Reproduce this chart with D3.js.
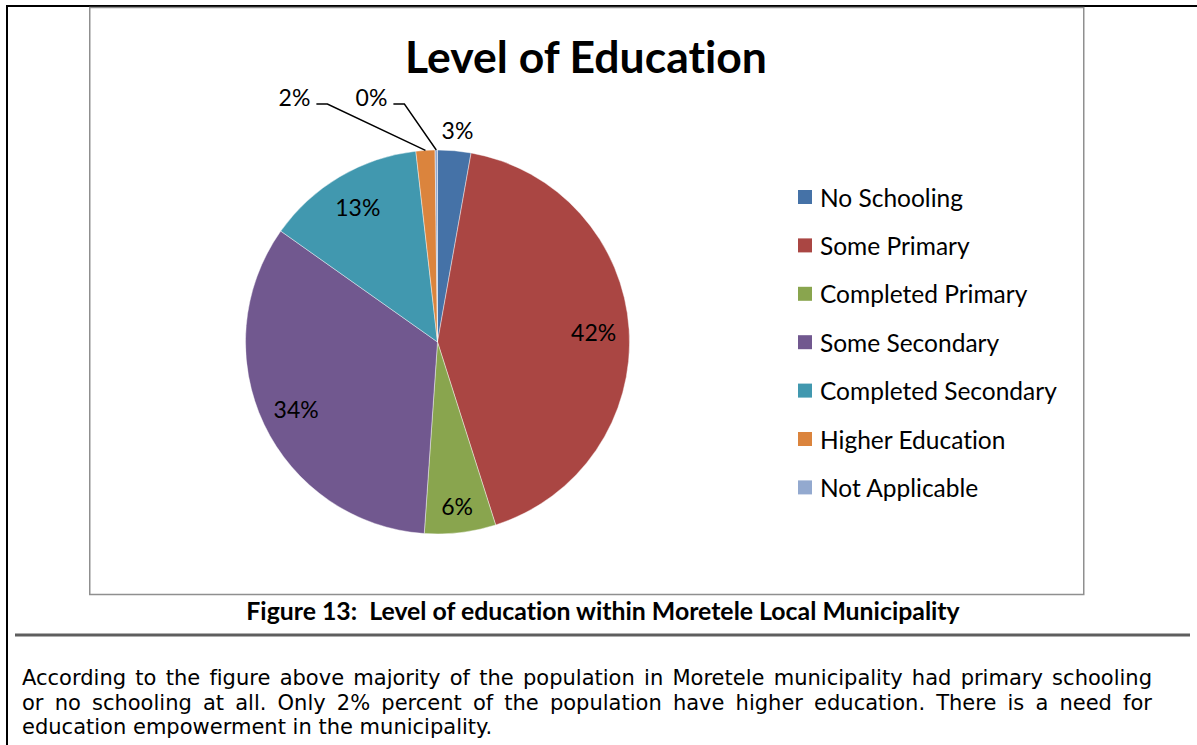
<!DOCTYPE html>
<html>
<head>
<meta charset="utf-8">
<script src="https://cdn.jsdelivr.net/npm/d3@7"></script>
<style>
  html, body { margin: 0; padding: 0; background: #fff; }
  svg { display: block; }
  text { font-variant-ligatures: none; font-feature-settings: "liga" 0, "clig" 0; }
</style>
</head>
<body>
<svg id="page" width="1197" height="745"></svg>
<script>
// Education levels (share of population, %)
const categories = ["No Schooling", "Some Primary", "Completed Primary", "Some Secondary",
                    "Completed Secondary", "Higher Education", "Not Applicable"];
const shares = [2.8, 42.3, 6.0, 33.7, 13.4, 1.6, 0.2];
const colors = ["#4572A7", "#AA4643", "#89A54E", "#71588F", "#4198AF", "#DB843D", "#93A9CF"];

const chartTitle = "Level of Education";
const caption = "Figure 13:  Level of education within Moretele Local Municipality";
const paragraph = [
  "According to the figure above majority of the population in Moretele municipality had primary schooling",
  "or no schooling at all. Only 2% percent of the population have higher education. There is a need for",
  "education empowerment in the municipality."
];

const svg = d3.select("#page");
const chartFont = "Lato, 'Open Sans', sans-serif";
const bodyFont = "'DejaVu Sans', Verdana, sans-serif";

// scale a text element's font size so that it spans the given width
function fitWidth(sel, base, target) {
  sel.attr("font-size", base);
  const w = sel.node().getComputedTextLength();
  sel.attr("font-size", base * target / w);
  return base * target / w;
}

// ---- page frame ----
svg.append("line").attr("x1", 6).attr("x2", 1197).attr("y1", 6).attr("y2", 6)
  .attr("stroke", "#000").attr("stroke-width", 2);
svg.append("line").attr("x1", 7).attr("x2", 7).attr("y1", 5).attr("y2", 745)
  .attr("stroke", "#000").attr("stroke-width", 2);

// chart area border
svg.append("rect").attr("x", 89.75).attr("y", 7.5).attr("width", 994).attr("height", 587)
  .attr("fill", "none").attr("stroke", "#8f8f8f").attr("stroke-width", 1.5);

// rule under the caption
svg.append("line").attr("x1", 15).attr("x2", 1190).attr("y1", 635).attr("y2", 635)
  .attr("stroke", "#5e5e5e").attr("stroke-width", 3);

// ---- title ----
const title = svg.append("text").text(chartTitle)
  .attr("x", 586).attr("y", 73).attr("text-anchor", "middle")
  .attr("font-family", chartFont).attr("font-weight", 700).attr("fill", "#000");
fitWidth(title, 44, 362);

// ---- pie ----
const cx = 437.5, cy = 342, R = 192;
const total = d3.sum(shares);
const data = categories.map((c, i) => ({ name: c, value: shares[i], color: colors[i] }));

const pie = d3.pie().value(d => d.value).sort(null).startAngle(0).endAngle(2 * Math.PI);
const arcs = pie(data);
const arc = d3.arc().innerRadius(0).outerRadius(R);

const g = svg.append("g").attr("transform", `translate(${cx},${cy})`);
g.selectAll("path.slice").data(arcs).join("path")
  .attr("class", "slice")
  .attr("d", arc)
  .attr("fill", d => d.data.color)
  .attr("stroke", "#ffffff").attr("stroke-width", 0.6).attr("stroke-opacity", 0.7);

const pct = d => Math.round(d.data.value / total * 100) + "%";
const labelSize = 23;

// point at radius r along the middle of a slice
function polar(d, r) {
  const a = (d.startAngle + d.endAngle) / 2;
  return [r * Math.sin(a), -r * Math.cos(a)];
}

// inside labels for the large slices, outside labels for the thin ones
const inside = arcs.filter(d => d.data.value >= 5);
const outside = arcs.filter(d => d.data.value < 5);

g.selectAll("text.in").data(inside).join("text")
  .attr("class", "in")
  .attr("transform", d => {
    const r = d.data.value < 10 ? R * 0.86 : R * 0.815;
    const p = polar(d, r);
    return `translate(${p[0]},${p[1]})`;
  })
  .attr("text-anchor", "middle").attr("dominant-baseline", "central")
  .attr("font-family", chartFont).attr("font-size", labelSize).attr("fill", "#000")
  .text(pct);

// label offsets for the thin slices (relative to the pie centre)
const outsidePlacement = {
  "No Schooling":     { dx: 20,   dy: -212, leader: false },
  "Higher Education": { dx: -143, dy: -245, leader: true },
  "Not Applicable":   { dx: -66,  dy: -245, leader: true }
};

outside.forEach(d => {
  const p = outsidePlacement[d.data.name];
  const t = g.append("text")
    .attr("x", p.dx).attr("y", p.dy)
    .attr("text-anchor", "middle").attr("dominant-baseline", "central")
    .attr("font-family", chartFont).attr("font-size", labelSize).attr("fill", "#000")
    .text(pct(d));
  if (p.leader) {
    const w = t.node().getComputedTextLength();
    const x0 = p.dx + w / 2 + 6;
    const yL = p.dy + 7;
    const edge = polar(d, R);
    g.append("polyline")
      .attr("points", [[x0, yL], [x0 + 11, yL], edge].map(q => q.join(",")).join(" "))
      .attr("fill", "none").attr("stroke", "#000").attr("stroke-width", 1.4);
  }
});

// ---- legend ----
const legend = svg.append("g").attr("transform", "translate(798,197)");
const rowH = 48.4;
const items = legend.selectAll("g").data(data).join("g")
  .attr("transform", (d, i) => `translate(0,${i * rowH})`);
items.append("rect").attr("x", 0).attr("y", -7).attr("width", 14).attr("height", 14)
  .attr("fill", d => d.color);
const legText = items.append("text").attr("x", 22).attr("y", 0)
  .attr("dominant-baseline", "central")
  .attr("font-family", chartFont).attr("fill", "#000")
  .text(d => d.name);
// size legend so the longest entry spans its measured width
const longest = legText.filter(d => d.name === "Completed Secondary");
const legSize = fitWidth(longest, 22, 237);
legText.attr("font-size", legSize);

// ---- caption ----
const cap = svg.append("text").text(caption)
  .attr("x", 603).attr("y", 620).attr("text-anchor", "middle")
  .attr("font-family", chartFont).attr("font-weight", 700).attr("fill", "#000")
  .attr("xml:space", "preserve");
fitWidth(cap, 20, 714);

// ---- body paragraph (justified except the last line) ----
const left = 22, right = 1152;
const baselines = [685, 709.5, 734];

// size the body text so the first line's natural width leaves a little room to justify
const probe = svg.append("text").text(paragraph[0])
  .attr("font-family", bodyFont).attr("x", -5000).attr("y", -5000);
const bodySize = fitWidth(probe, 20, 1095);
probe.remove();

paragraph.forEach((line, i) => {
  const t = svg.append("text").text(line)
    .attr("x", left).attr("y", baselines[i])
    .attr("font-family", bodyFont).attr("font-size", bodySize).attr("fill", "#000");
  if (i < paragraph.length - 1) {
    const w = t.node().getComputedTextLength();
    const gaps = line.split(" ").length - 1;
    t.style("word-spacing", ((right - left - w) / gaps) + "px");
  }
});
</script>
</body>
</html>
